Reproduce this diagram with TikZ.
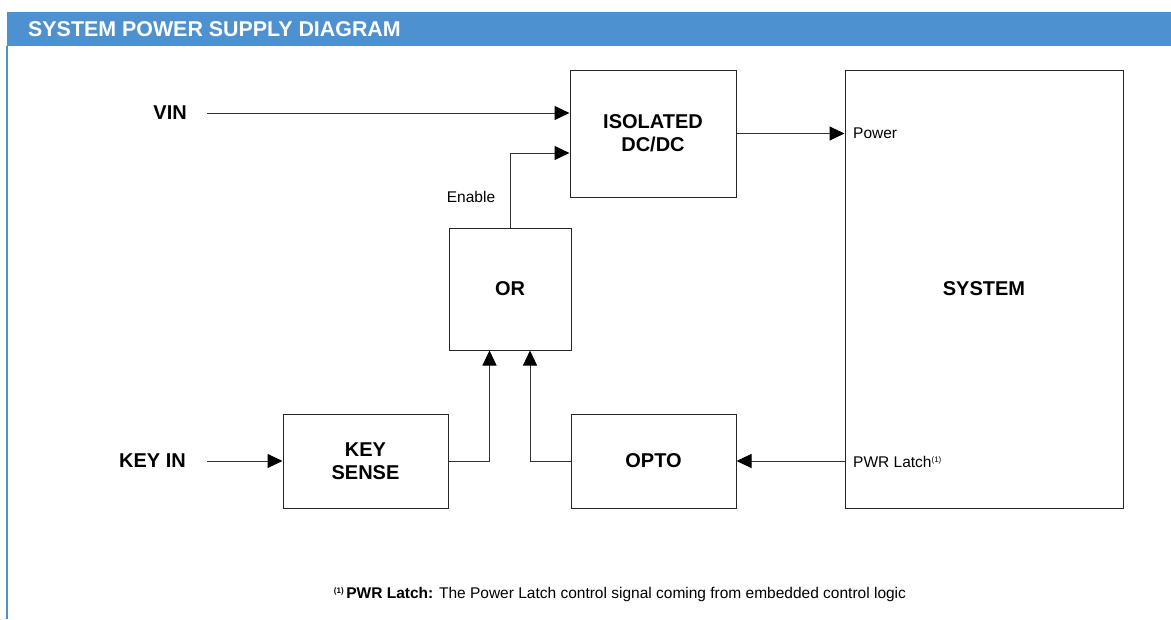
\documentclass[tikz,border=0pt]{standalone}
\usepackage{fontspec}
\setmainfont{Liberation Sans}
\usetikzlibrary{arrows.meta}
\definecolor{hdr}{RGB}{77,145,208}
\tikzset{
  box/.style={draw=black!85, line width=1pt, fill=white, align=center, inner sep=0pt,
    font=\fontsize{20}{23}\selectfont\bfseries},
  lbl/.style={inner sep=0pt, font=\fontsize{20}{23}\selectfont\bfseries},
  small/.style={inner sep=0pt, font=\fontsize{15.5}{18}\selectfont},
  arr/.style={draw=black!80, line width=1pt, -{Triangle[length=15pt,width=14pt,color=black]}},
  wire/.style={draw=black!80, line width=1pt}
}
\begin{document}
\begin{tikzpicture}[x=1pt,y=-1pt]
\useasboundingbox (0,0) rectangle (1171,619);
\fill[white] (0,0) rectangle (1171,619);
% header
\fill[hdr] (7,12) rectangle (1171,46);
\draw[hdr, line width=2pt] (7,46) -- (7,619);
\node[anchor=west, inner sep=0pt, text=white, font=\fontsize{21.4}{24}\selectfont\bfseries] (title) at (28,29.5) {SYSTEM POWER SUPPLY DIAGRAM};
% boxes
\node[box, minimum width=166pt, minimum height=127pt] (iso) at (653,133.5) {ISOLATED\\DC/DC};
\node[box, minimum width=122pt, minimum height=122pt] (or) at (510,289) {OR};
\node[box, minimum width=165pt, minimum height=94pt] (ks) at (365.5,461) {KEY\\SENSE};
\node[box, minimum width=165pt, minimum height=94pt] (opto) at (653.5,461) {OPTO};
\node[box, minimum width=278pt, minimum height=438pt] (sys) at (984,289) {SYSTEM};
% inputs
\node[lbl, anchor=east] (vin) at (187,113) {VIN};
\node[lbl, anchor=east] (keyin) at (186,461) {KEY IN};
% connectors
\draw[arr] ([xshift=20pt]vin.east) -- (vin.east -| iso.west);
\draw[arr] ([xshift=21pt]keyin.east) -- (ks.west);
\draw[arr] (or.north) |- ([yshift=-19.5pt]iso.west);
\draw[arr] (iso.east) -- (iso.east -| sys.west);
\draw[arr] (ks.east) -| ([xshift=-20.5pt]or.south);
\draw[arr] (opto.west) -| ([xshift=20pt]or.south);
\draw[arr] (opto.east -| sys.west) -- (opto.east);
% labels
\node[small] (enable) at (471,197) {Enable};
\node[small, anchor=west] (power) at (853,133) {Power};
\node[small, anchor=west] (latch) at (853,462) {PWR Latch\raisebox{5pt}{\fontsize{8}{8}\selectfont(1)}};
\node[small] (note) at (620,594) {\raisebox{5pt}{\fontsize{8}{8}\selectfont\bfseries(1)}\,\textbf{PWR Latch:} The Power Latch control signal coming from embedded control logic};
\end{tikzpicture}
\end{document}
